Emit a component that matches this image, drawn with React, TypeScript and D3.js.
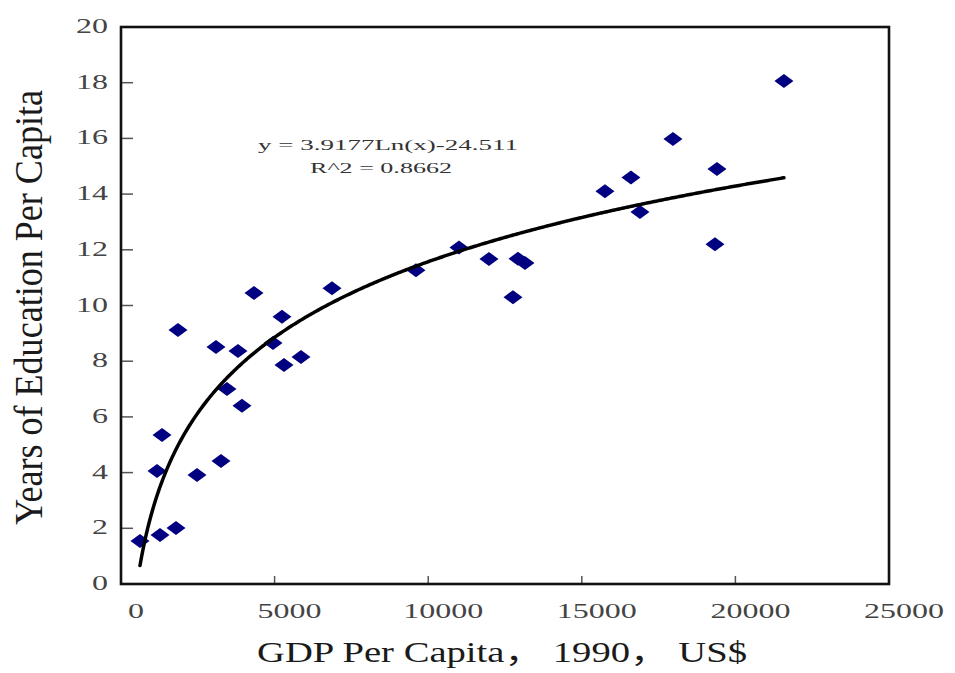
import React from "react";
import * as d3 from "d3";

// GDP per capita (1990 US$) and years of education per capita
const gdp = [618, 1270, 1790, 1172, 1335, 1855, 2474, 3255, 3092, 3450, 3808, 3938, 4329, 4948, 5240, 5306, 5859, 6868, 9602, 11002, 11978, 12760, 12923, 13150, 15754, 16600, 16893, 17967, 19400, 19335, 21580];
const edu = [1.54, 1.76, 2.01, 4.06, 5.35, 9.12, 3.91, 4.42, 8.51, 7.0, 8.37, 6.4, 10.45, 8.65, 9.6, 7.86, 8.15, 10.62, 11.27, 12.08, 11.67, 10.3, 11.68, 11.53, 14.1, 14.6, 13.36, 15.98, 14.9, 12.2, 18.06];

const xTicks = [0, 5000, 10000, 15000, 20000, 25000];
const yTicks = [0, 2, 4, 6, 8, 10, 12, 14, 16, 18, 20];

// logarithmic trend line coefficients
const trendA = [3.9177];
const trendB = [-24.511];
const eqLines = ["y = 3.9177Ln(x)-24.511", "R^2 = 0.8662"];

const xTitleParts = ["GDP Per Capita", "，", " 1990", "，", " US$"];
const yTitle = "Years of Education Per Capita";

export default function App() {
  const W = 955, H = 673;
  const x = d3.scaleLinear().domain([0, 25000]).range([121, 889]);
  const y = d3.scaleLinear().domain([0, 20]).range([584, 27]);

  const xmin = d3.min(gdp) as number;
  const xmax = d3.max(gdp) as number;
  const curveX = d3.range(xmin, xmax, 50).concat([xmax]);
  const line = d3
    .line<number>()
    .x((d) => x(d))
    .y((d) => y(trendA[0] * Math.log(d) + trendB[0]))
    .curve(d3.curveLinear);

  const diamond = (cx: number, cy: number) =>
    `M${cx},${cy - 7}L${cx + 9.5},${cy}L${cx},${cy + 7}L${cx - 9.5},${cy}Z`;

  return (
    <svg
      width={W}
      height={H}
      style={{ position: "absolute", left: 0, top: 0, background: "#fff" }}
      fontFamily="'Liberation Serif', serif"
    >
      <rect x={0} y={0} width={W} height={H} fill="#fff" />
      {/* ticks */}
      {yTicks.map((t) => (
        <line key={"yt" + t} x1={x(0)} x2={x(0) + 12} y1={y(t)} y2={y(t)} stroke="#555" strokeWidth={1.5} />
      ))}
      {xTicks.map((t) => (
        <line key={"xt" + t} x1={x(t)} x2={x(t)} y1={y(0)} y2={y(0) - 8} stroke="#555" strokeWidth={1.5} />
      ))}
      {/* frame */}
      <rect x={x(0)} y={y(20)} width={x(25000) - x(0)} height={y(0) - y(20)} fill="none" stroke="#111" strokeWidth={2.6} />
      {/* tick labels */}
      {yTicks.map((t) => (
        <text
          key={"yl" + t}
          x={108}
          y={y(t) + 6}
          textAnchor="end"
          fontSize={22}
          fill="#444"
          textLength={16 * String(t).length}
          lengthAdjust="spacingAndGlyphs"
        >
          {t}
        </text>
      ))}
      {xTicks.map((t) => (
        <text
          key={"xl" + t}
          x={x(t) + 15}
          y={618}
          textAnchor="middle"
          fontSize={22}
          fill="#444"
          textLength={16 * String(t).length}
          lengthAdjust="spacingAndGlyphs"
        >
          {t}
        </text>
      ))}
      {/* points */}
      {gdp.map((g, i) => (
        <path key={"p" + i} d={diamond(x(g), y(edu[i]))} fill="#000080" />
      ))}
      {/* trend line */}
      <path d={line(curveX) || ""} fill="none" stroke="#000" strokeWidth={3.5} strokeLinecap="round" />
      {/* equation */}
      <text x={258} y={150} fontSize={15} fill="#333" textLength={260} lengthAdjust="spacingAndGlyphs">
        {eqLines[0]}
      </text>
      <text x={310} y={173} fontSize={15} fill="#333" textLength={142} lengthAdjust="spacingAndGlyphs">
        {eqLines[1]}
      </text>
      {/* axis titles */}
      <text x={257} y={662} fontSize={30} fill="#1a1a1a" textLength={490} lengthAdjust="spacingAndGlyphs">
        {xTitleParts.map((p, i) =>
          p === "，" ? (
            <tspan key={i} fontFamily="'Noto Sans CJK SC'">{p}</tspan>
          ) : (
            <tspan key={i}>{p}</tspan>
          )
        )}
      </text>
      <text
        transform={`translate(42,307.5) rotate(-90)`}
        textAnchor="middle"
        fontSize={41}
        fill="#1a1a1a"
        textLength={435}
        lengthAdjust="spacingAndGlyphs"
      >
        {yTitle}
      </text>
    </svg>
  );
}
